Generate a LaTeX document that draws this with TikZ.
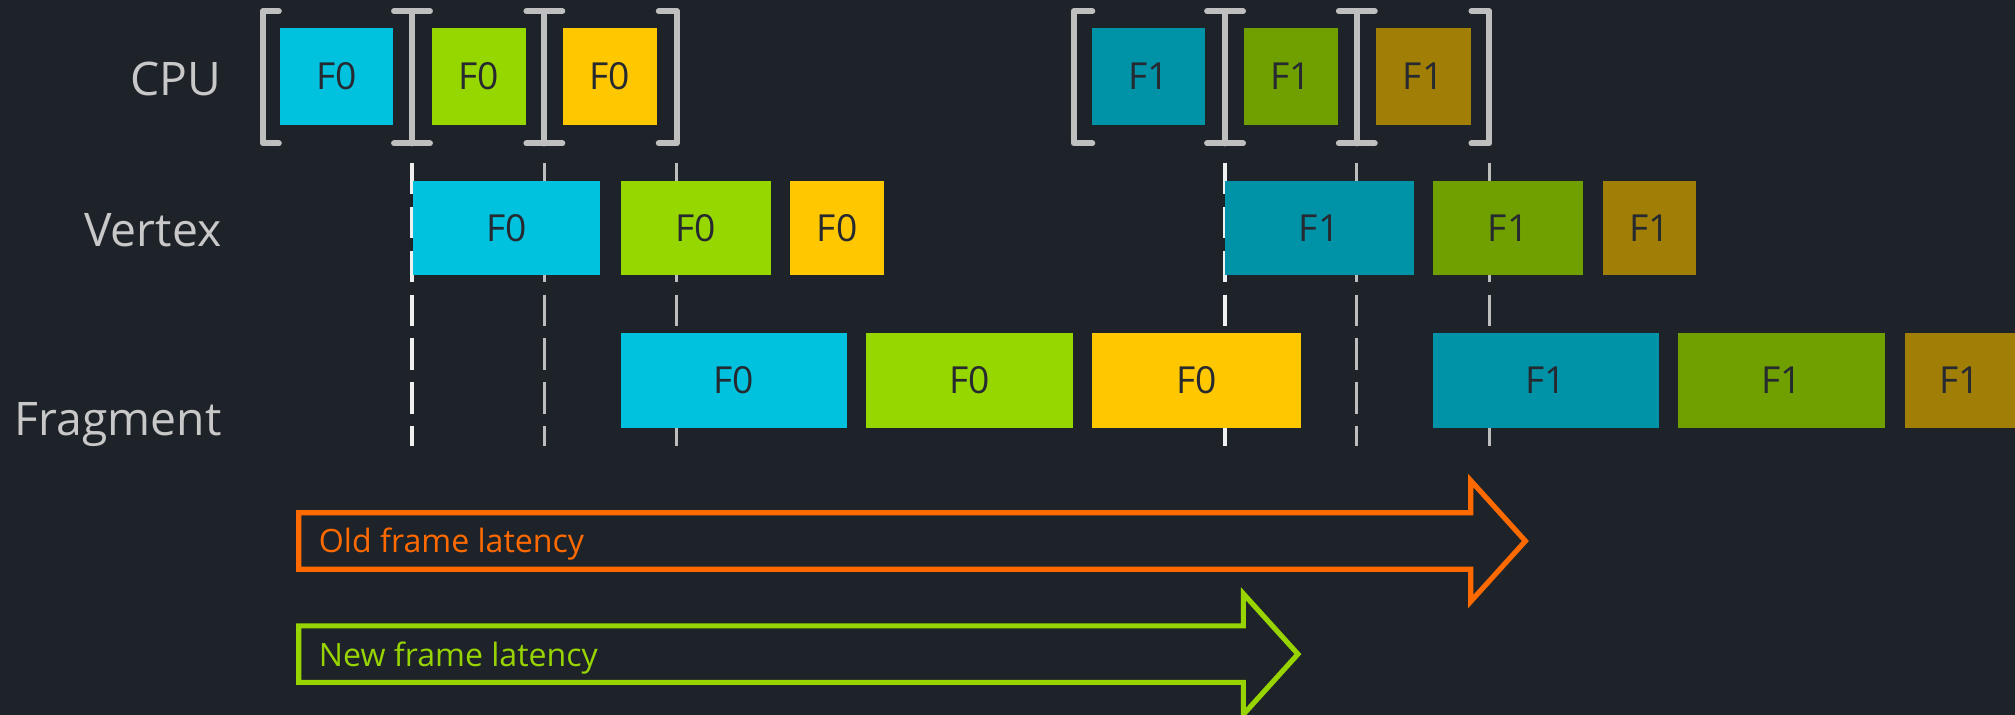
\documentclass[tikz,border=0pt]{standalone}
\usepackage{fontspec}
\setmainfont{Open Sans}
\definecolor{bg}{HTML}{1E2329}
\definecolor{cyanA}{HTML}{00C2DE}
\definecolor{greenA}{HTML}{97D700}
\definecolor{yellowA}{HTML}{FFC700}
\definecolor{cyanB}{HTML}{0093A8}
\definecolor{greenB}{HTML}{6FA000}
\definecolor{goldB}{HTML}{A17F07}
\definecolor{boxtxt}{HTML}{262A30}
\definecolor{lbltxt}{HTML}{C8C8C8}
\definecolor{brk}{HTML}{BFBFBF}
\definecolor{tickgray}{HTML}{BDBDBD}
\definecolor{tickwhite}{HTML}{F0F0F0}
\definecolor{oldc}{HTML}{FF6A00}
\definecolor{newc}{HTML}{97D400}
\tikzset{
  box/.style={rectangle, fill=#1, text=boxtxt, font=\fontsize{29}{32}\selectfont, inner sep=0pt, outer sep=0pt},
  cpurow/.style={minimum height=75pt},
  vtxrow/.style={minimum height=73pt},
  frgrow/.style={minimum height=74pt},
  rowlbl/.style={anchor=base east, inner sep=0pt, text=lbltxt, font=\fontsize{36}{40}\selectfont},
  bracketline/.style={draw=brk, line width=4.6pt, line cap=round, line join=round},
  tickline/.style={line width=2.6pt, dash pattern=on 24.6pt off 9.6pt},
  latarrow/.style={line width=4pt, line join=miter},
  latlbl/.style={anchor=base west, inner sep=0pt, font=\fontsize{25}{28}\selectfont}
}
\begin{document}
\begin{tikzpicture}[x=1pt,y=-1pt]
\fill[bg] (0,0) rectangle (1568,556);
\useasboundingbox (0,0) rectangle (1568,556);

% frame boundary coordinates
\foreach \n/\x in {1/320.6,2/423.6,3/526.6,4/953.3,5/1055.8,6/1159}{
  \coordinate (t\n) at (\x,126.6);
  \coordinate (b\n) at (\x,347);
}
% dashed lines
\draw[tickline, draw=tickwhite] (t1) -- (b1);
\draw[tickline, draw=tickgray] (t2) -- (b2);
\draw[tickline, draw=tickgray] (t3) -- (b3);
\draw[tickline, draw=tickwhite] (t4) -- (b4);
\draw[tickline, draw=tickgray] (t5) -- (b5);
\draw[tickline, draw=tickgray] (t6) -- (b6);

% brackets, F0 group
\draw[bracketline] (217,8.7) -- (204.6,8.7) -- (204.6,111.6) -- (217,111.6);
\foreach \x in {320.6,423.6,953.3,1055.8}{
  \draw[bracketline] (\x-14,8.7) -- (\x+14,8.7);
  \draw[bracketline] (\x,8.7) -- (\x,111.6);
  \draw[bracketline] (\x-14,111.6) -- (\x+14,111.6);
}
\draw[bracketline] (512.6,8.7) -- (526.6,8.7) -- (526.6,111.6) -- (512.6,111.6);
% brackets, F1 group
\draw[bracketline] (850,8.7) -- (835.5,8.7) -- (835.5,111.6) -- (850,111.6);
\draw[bracketline] (1145,8.7) -- (1159,8.7) -- (1159,111.6) -- (1145,111.6);

% row labels
\node[rowlbl] (lcpu) at (172.5,74.5) {CPU};
\node[rowlbl] (lvtx) at (172.5,192) {Vertex};
\node[rowlbl] (lfrg) at (172.5,339) {Fragment};

% CPU row
\node[box=cyanA, cpurow, minimum width=88pt] (c1) at (262,59.5) {F0};
\node[box=greenA, cpurow, minimum width=73pt] (c2) at (372.5,59.5) {F0};
\node[box=yellowA, cpurow, minimum width=73pt] (c3) at (474.5,59.5) {F0};
\node[box=cyanB, cpurow, minimum width=88pt] (c4) at (894,59.5) {F1};
\node[box=greenB, cpurow, minimum width=73pt] (c5) at (1004.5,59.5) {F1};
\node[box=goldB, cpurow, minimum width=74pt] (c6) at (1107.5,59.5) {F1};

% Vertex row
\node[box=cyanA, vtxrow, minimum width=146pt] (v1) at (394,177.5) {F0};
\node[box=greenA, vtxrow, minimum width=117pt] (v2) at (541.5,177.5) {F0};
\node[box=yellowA, vtxrow, minimum width=73pt] (v3) at (651.5,177.5) {F0};
\node[box=cyanB, vtxrow, minimum width=147pt] (v4) at (1026.5,177.5) {F1};
\node[box=greenB, vtxrow, minimum width=117pt] (v5) at (1173.5,177.5) {F1};
\node[box=goldB, vtxrow, minimum width=73pt] (v6) at (1283.5,177.5) {F1};

% Fragment row
\node[box=cyanA, frgrow, minimum width=176pt] (f1) at (571,296) {F0};
\node[box=greenA, frgrow, minimum width=161pt] (f2) at (754.5,296) {F0};
\node[box=yellowA, frgrow, minimum width=162pt] (f3) at (931,296) {F0};
\node[box=cyanB, frgrow, minimum width=176pt] (f4) at (1203,296) {F1};
\node[box=greenB, frgrow, minimum width=161pt] (f5) at (1386.5,296) {F1};
\node[box=goldB, frgrow, minimum width=86pt] (f6) at (1525,296) {F1};

% latency arrows
\draw[latarrow, draw=oldc] (232.5,399) -- (1144.5,399) -- (1144.5,374) -- (1187,421)
  -- (1144.5,468) -- (1144.5,443) -- (232.5,443) -- cycle;
\node[latlbl, text=oldc] (lold) at (248,430) {Old frame latency};
\draw[latarrow, draw=newc] (232.5,487) -- (967.5,487) -- (967.5,462) -- (1010,509)
  -- (967.5,556) -- (967.5,531) -- (232.5,531) -- cycle;
\node[latlbl, text=newc] (lnew) at (248,519) {New frame latency};
\end{tikzpicture}
\end{document}
